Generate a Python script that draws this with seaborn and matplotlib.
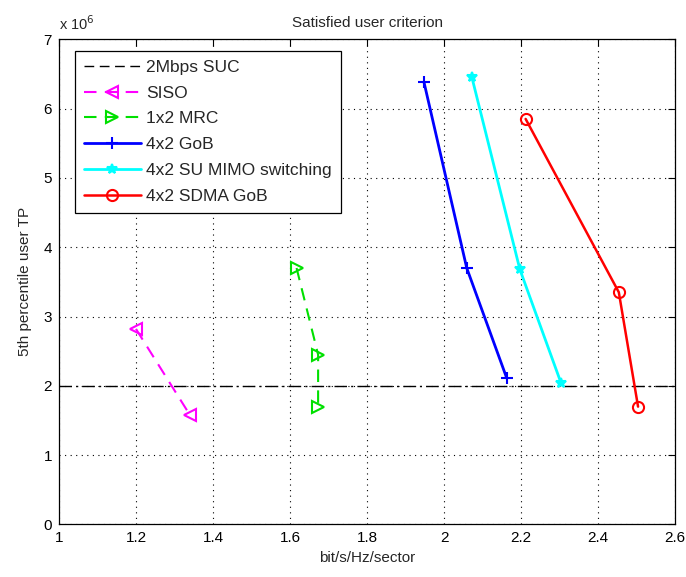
import numpy as np
import pandas as pd
import matplotlib
matplotlib.use("Agg")
import matplotlib.pyplot as plt
import seaborn as sns

# Spectral efficiency (bit/s/Hz/sector) vs 5th percentile user throughput (bit/s)
siso_x = [1.20, 1.34]
siso_y = [2.82e6, 1.58e6]

mrc_x = [1.617, 1.673, 1.673]
mrc_y = [3.70e6, 2.45e6, 1.70e6]

gob_x = [1.948, 2.059, 2.163]
gob_y = [6.38e6, 3.70e6, 2.11e6]

sumimo_x = [2.072, 2.197, 2.304]
sumimo_y = [6.46e6, 3.68e6, 2.04e6]

sdma_x = [2.212, 2.454, 2.504]
sdma_y = [5.85e6, 3.35e6, 1.70e6]

suc_level = 2e6
x_ticks = [1, 1.2, 1.4, 1.6, 1.8, 2, 2.2, 2.4, 2.6]
y_ticks = [0, 1e6, 2e6, 3e6, 4e6, 5e6, 6e6, 7e6]

sns.set_theme(style="white")
plt.rcParams["font.family"] = ["Liberation Sans", "DejaVu Sans"]
plt.rcParams["font.size"] = 10.5

fig = plt.figure(figsize=(6.86, 5.77), dpi=100)
ax = fig.add_axes([0.086, 0.091, 0.898, 0.841])

# Threshold line across the full axis range
suc = pd.DataFrame({"x": [x_ticks[0], x_ticks[-1]], "y": [suc_level, suc_level]})
sns.lineplot(data=suc, x="x", y="y", ax=ax, color="black", linewidth=1.0,
             estimator=None, label="2Mbps SUC")
ax.lines[-1].set_dashes((9, 3, 1.5, 3))

series = [
    ("SISO", siso_x, siso_y, "#ff00ff", "<", (6, 4), 1.5),
    ("1x2 MRC", mrc_x, mrc_y, "#00e000", ">", (6, 4), 1.5),
    ("4x2 GoB", gob_x, gob_y, "#0000ff", "+", None, 2.0),
    ("4x2 SU MIMO switching", sumimo_x, sumimo_y, "#00ffff", "*", None, 2.0),
    ("4x2 SDMA GoB", sdma_x, sdma_y, "#ff0000", "o", None, 1.8),
]

for name, xs, ys, col, mk, dash, lw in series:
    df = pd.DataFrame({"x": xs, "y": ys})
    sns.lineplot(data=df, x="x", y="y", ax=ax, sort=False, estimator=None,
                 color=col, linewidth=lw, label=name)
    ln = ax.lines[-1]
    ln.set_marker(mk)
    ln.set_markersize(8 if mk != "*" else 7.5)
    ln.set_markeredgewidth(1.5)
    ln.set_markeredgecolor(col)
    ln.set_markerfacecolor("none" if mk in "<>o" else col)
    if dash is not None:
        ln.set_dashes(dash)

ax.set_xlim(1, 2.6)
ax.set_ylim(0, 7e6)
ax.set_xticks(x_ticks)
ax.set_yticks(y_ticks)
ax.set_xticklabels([f"{v:g}" for v in x_ticks])
ax.set_yticklabels([f"{v / 1e6:g}" for v in y_ticks])
ax.tick_params(direction="in", top=True, right=True, length=5, width=0.8,
               colors="black", labelsize=11, pad=5)

ax.grid(True, linestyle=(0, (1, 4)), color="black", linewidth=0.8)
for s in ax.spines.values():
    s.set_color("black")
    s.set_linewidth(0.9)

ax.set_title("Satisfied user criterion", fontsize=11, pad=9)
ax.set_xlabel("bit/s/Hz/sector", fontsize=11, labelpad=4)
ax.set_ylabel("5th percentile user TP", fontsize=11, labelpad=8)
ax.text(0.0, 1.012, r"x 10$^{6}$", transform=ax.transAxes, fontsize=10.5,
        ha="left", va="bottom")

leg = ax.legend(loc="upper left", bbox_to_anchor=(0.012, 0.994), frameon=True,
                fancybox=False, edgecolor="black", framealpha=1,
                fontsize=12.5, handlelength=3.3, borderpad=0.5,
                labelspacing=0.62, handletextpad=0.3)
leg.get_frame().set_linewidth(0.9)
leg.get_lines()[0].set_dashes((7, 4))

fig.savefig("out.png", dpi=100)
